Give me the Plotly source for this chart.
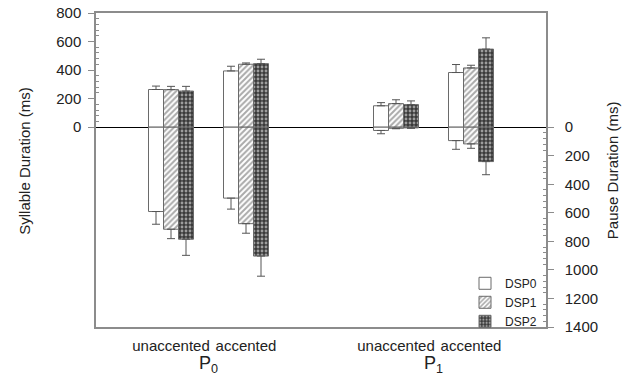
import plotly.graph_objects as go

# ---- data (ms) ----
conditions = ["unaccented", "accented"]
prosodic = ["P<sub>0</sub>", "P<sub>1</sub>"]
series = ["DSP0", "DSP1", "DSP2"]

# order: P0-unaccented, P0-accented, P1-unaccented, P1-accented
syllable_dsp0 = [264, 394, 150, 383]
syllable_dsp1 = [263, 441, 165, 415]
syllable_dsp2 = [253, 445, 158, 547]
syllable_err_dsp0 = [24, 33, 22, 56]
syllable_err_dsp1 = [23, 9, 27, 19]
syllable_err_dsp2 = [33, 31, 26, 79]

pause_dsp0 = [591, 497, 23, 94]
pause_dsp1 = [715, 676, 8, 117]
pause_dsp2 = [785, 903, 5, 241]
pause_err_dsp0 = [89, 77, 23, 61]
pause_err_dsp1 = [66, 67, 3, 31]
pause_err_dsp2 = [113, 141, 3, 92]

left_ticks = [0, 200, 400, 600, 800]
right_ticks = [0, 200, 400, 600, 800, 1000, 1200, 1400]

syllables = [syllable_dsp0, syllable_dsp1, syllable_dsp2]
syllable_errs = [syllable_err_dsp0, syllable_err_dsp1, syllable_err_dsp2]
pauses = [pause_dsp0, pause_dsp1, pause_dsp2]
pause_errs = [pause_err_dsp0, pause_err_dsp1, pause_err_dsp2]

# x positions: two conditions per prosodic group, groups separated by a gap
x_pos = [g * 3 + c + 1 for g in range(len(prosodic)) for c in range(len(conditions))]
tick_text = [c for _ in prosodic for c in conditions]

FONT = "Arial, Liberation Sans, sans-serif"
OUTLINE = "#6a6a6a"
ERR = "#555555"
AXIS = "#8c8c8c"
Y_RANGE = [-1400, 800]

patterns = [
    None,
    dict(shape="/", fgcolor="#555555", bgcolor="white", size=4, solidity=0.5),
    dict(shape=".", fgcolor="white", bgcolor="#3a3a3a", size=4, solidity=0.4),
]


def bar_marker(i):
    m = dict(color="white", line=dict(color=OUTLINE, width=1))
    if patterns[i] is not None:
        m["pattern"] = patterns[i]
    return m


fig = go.Figure()
for i, name in enumerate(series):
    n = len(x_pos)
    fig.add_trace(go.Bar(
        x=x_pos, y=syllables[i], name=name, offsetgroup=name, legendgroup=name,
        marker=bar_marker(i),
        error_y=dict(type="data", symmetric=False, array=syllable_errs[i],
                     arrayminus=[0] * n, color=ERR, thickness=1, width=4),
    ))
    fig.add_trace(go.Bar(
        x=x_pos, y=[-v for v in pauses[i]], name=name, offsetgroup=name, legendgroup=name,
        showlegend=False,
        marker=bar_marker(i),
        error_y=dict(type="data", symmetric=False, array=[0] * n,
                     arrayminus=pause_errs[i], color=ERR, thickness=1, width=4),
    ))
# empty trace that only registers the right-hand (pause) axis
fig.add_trace(go.Scatter(x=[], y=[], yaxis="y2", showlegend=False, hoverinfo="skip"))

left_minor = [v for v in range(0, 801, 40) if v % 200 != 0]
right_minor = [-v for v in range(0, 1401, 40) if v % 200 != 0]

fig.update_layout(
    width=631, height=381,
    margin=dict(l=96, r=85, t=13, b=54, autoexpand=False),
    paper_bgcolor="white", plot_bgcolor="white",
    font=dict(family=FONT, size=14, color="#222222"),
    barmode="group", bargap=0.4, bargroupgap=0,
    showlegend=True,
    legend=dict(x=0.82, xanchor="left", y=-0.028, yanchor="bottom",
                bgcolor="rgba(0,0,0,0)", font=dict(size=12, color="#222222"),
                tracegroupgap=0),
    xaxis=dict(range=[0, 6], tickmode="array", tickvals=x_pos, ticktext=tick_text,
               showline=True, linecolor=AXIS, linewidth=1.5, mirror=True,
               ticks="", showgrid=False, zeroline=False, automargin=False,
               tickfont=dict(size=15), ticklabelstandoff=4),
    yaxis=dict(range=Y_RANGE, tickmode="array", tickvals=left_ticks,
               ticktext=[str(v) for v in left_ticks],
               showline=True, linecolor=AXIS, linewidth=1.5,
               ticks="outside", ticklen=6, tickcolor=AXIS, tickwidth=1,
               minor=dict(tickmode="array", tickvals=left_minor, ticks="inside",
                          ticklen=3, tickcolor=AXIS, tickwidth=1),
               showgrid=False, zeroline=True, zerolinecolor="black", zerolinewidth=1,
               layer="above traces", automargin=False,
               tickfont=dict(size=15), ticklabelstandoff=4),
    yaxis2=dict(overlaying="y", side="right", range=Y_RANGE, tickmode="array",
                tickvals=[-v for v in right_ticks], ticktext=[str(v) for v in right_ticks],
                showline=True, linecolor=AXIS, linewidth=1.5,
                ticks="outside", ticklen=6, tickcolor=AXIS, tickwidth=1,
                minor=dict(tickmode="array", tickvals=right_minor, ticks="inside",
                           ticklen=3, tickcolor=AXIS, tickwidth=1),
                showgrid=False, zeroline=False, automargin=False,
                tickfont=dict(size=15), ticklabelstandoff=8),
)

annotations = [
    dict(text="Syllable Duration (ms)", xref="paper", yref="paper",
         x=-0.158, y=0.529, textangle=-90, showarrow=False,
         font=dict(size=15), xanchor="center", yanchor="middle"),
    dict(text="Pause Duration (ms)", xref="paper", yref="paper",
         x=1.147, y=0.5, textangle=-90, showarrow=False,
         font=dict(size=15), xanchor="center", yanchor="middle"),
]
for g, label in enumerate(prosodic):
    center = (x_pos[g * 2] + x_pos[g * 2 + 1]) / 2
    annotations.append(dict(text=label, xref="x", yref="paper", x=center, y=-0.121,
                            showarrow=False, font=dict(size=18),
                            xanchor="center", yanchor="middle"))
fig.update_layout(annotations=annotations)

fig.write_html("out.html", config={"displayModeBar": False},
               post_script="document.body.style.margin='0px';")
